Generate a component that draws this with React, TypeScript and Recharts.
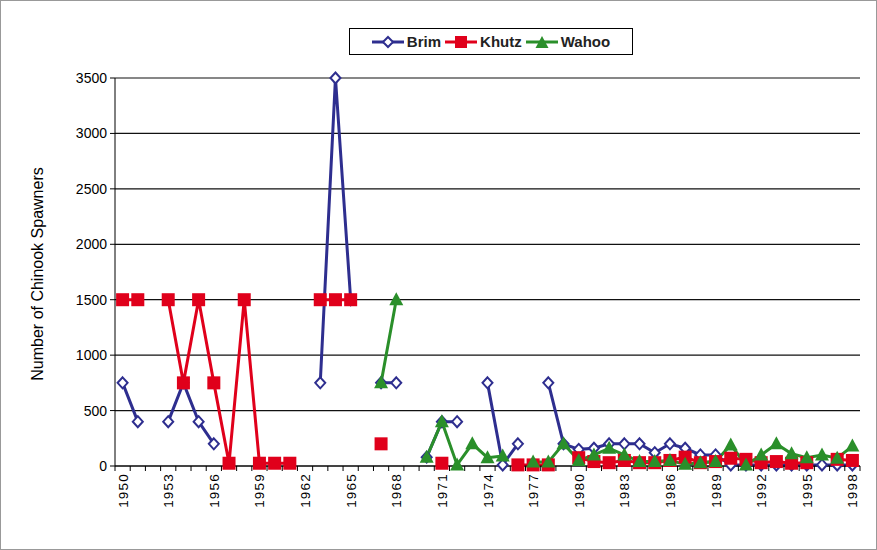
import { CartesianGrid, Label, Line, LineChart, XAxis, YAxis } from 'recharts';

// Chinook spawner counts by stream, 1950–1998 (null = no survey that year)
const years = [
  1950, 1951, 1952, 1953, 1954, 1955, 1956, 1957, 1958, 1959, 1960, 1961, 1962, 1963, 1964, 1965, 1966,
  1967, 1968, 1969, 1970, 1971, 1972, 1973, 1974, 1975, 1976, 1977, 1978, 1979, 1980, 1981, 1982, 1983,
  1984, 1985, 1986, 1987, 1988, 1989, 1990, 1991, 1992, 1993, 1994, 1995, 1996, 1997, 1998,
];

const brim: (number | null)[] = [
  750, 400, null, 400, 750, 400, 200, null, null, null, null, null, null, 750, 3500, 1500, null,
  750, 750, null, 80, 400, 400, null, 750, 10, 200, null, 750, 200, 150, 160, 200, 200,
  200, 120, 200, 160, 100, 100, 10, 10, 10, 10, 10, 10, 10, 10, 10,
];

const khutz: (number | null)[] = [
  1500, 1500, null, 1500, 750, 1500, 750, 25, 1500, 25, 25, 25, null, 1500, 1500, 1500, null,
  200, null, null, null, 25, null, null, null, null, 10, 10, 10, null, 75, 40, 30, 50,
  30, 30, 50, 80, 30, 40, 70, 60, 30, 40, 25, 30, null, 60, 50,
];

const wahoo: (number | null)[] = [
  null, null, null, null, null, null, null, null, null, null, null, null, null, null, null, null, null,
  750, 1500, null, 80, 400, 10, 200, 75, 90, null, 35, 35, 200, 50, 100, 160, 100,
  40, 40, 50, 15, 30, 40, 190, 10, 100, 200, 110, 75, 100, 70, 180,
];

const yTicks = [0, 500, 1000, 1500, 2000, 2500, 3000, 3500];

const BRIM = '#2e2e8f';
const KHUTZ = '#e0001b';
const WAHOO = '#2a8f2a';
const FONT = '"Liberation Sans", Arial, sans-serif';

const W = 877;
const H = 550;
const PLOT_LEFT = 115;
const PLOT_RIGHT = 860;
const PLOT_TOP = 78;
const PLOT_BOTTOM = 466;
const BAND = (PLOT_RIGHT - PLOT_LEFT) / years.length;

const data = years.map((year, i) => ({ year, brim: brim[i], khutz: khutz[i], wahoo: wahoo[i] }));

function Diamond({ cx, cy, value }: any) {
  if (value == null || cy == null) return <g />;
  return (
    <polygon
      points={`${cx},${cy - 5.5} ${cx + 5},${cy} ${cx},${cy + 5.5} ${cx - 5},${cy}`}
      fill="#fff"
      stroke={BRIM}
      strokeWidth={2}
    />
  );
}

function Square({ cx, cy, value }: any) {
  if (value == null || cy == null) return <g />;
  return <rect x={cx - 6.5} y={cy - 6.5} width={13} height={13} fill={KHUTZ} />;
}

function Triangle({ cx, cy, value }: any) {
  if (value == null || cy == null) return <g />;
  return <polygon points={`${cx},${cy - 7.5} ${cx + 7},${cy + 5.5} ${cx - 7},${cy + 5.5}`} fill={WAHOO} />;
}

// tick marks sit between categories, labels every third year
function YearTick({ x, y, payload, index }: any) {
  const half = BAND / 2;
  return (
    <g>
      <line x1={x - half} x2={x - half} y1={y} y2={y + 5} stroke="#000" />
      {index === years.length - 1 && <line x1={x + half} x2={x + half} y1={y} y2={y + 5} stroke="#000" />}
      {index % 3 === 0 && (
        <text
          transform={`translate(${x + 5},${y + 7}) rotate(-90)`}
          textAnchor="end"
          fontSize={13.5}
          letterSpacing={1.2}
          fontFamily={FONT}
          fill="#000"
        >
          {payload.value}
        </text>
      )}
    </g>
  );
}

function LegendIcon({ color, marker }: { color: string; marker: 'diamond' | 'square' | 'triangle' }) {
  return (
    <svg width={32} height={14} aria-hidden="true">
      <line x1={0} y1={7} x2={32} y2={7} stroke={color} strokeWidth={3} />
      {marker === 'diamond' && <polygon points="16,2 21,7 16,12 11,7" fill="#fff" stroke={color} strokeWidth={2} />}
      {marker === 'square' && <rect x={10} y={1} width={12} height={12} fill={color} />}
      {marker === 'triangle' && <polygon points="16,1 22.5,13 9.5,13" fill={color} />}
    </svg>
  );
}

export default function App() {
  const items = [
    { name: 'Brim', color: BRIM, marker: 'diamond' as const },
    { name: 'Khutz', color: KHUTZ, marker: 'square' as const },
    { name: 'Wahoo', color: WAHOO, marker: 'triangle' as const },
  ];
  return (
    <div
      style={{
        position: 'absolute',
        left: 0,
        top: 0,
        width: W,
        height: H,
        boxSizing: 'border-box',
        border: '1px solid #999',
        background: '#fff',
        fontFamily: FONT,
      }}
    >
      <div
        style={{
          position: 'absolute',
          left: 348,
          top: 27,
          width: 284,
          height: 27,
          boxSizing: 'border-box',
          border: '1px solid #000',
          display: 'flex',
          alignItems: 'center',
          justifyContent: 'center',
          gap: 4,
          fontSize: 15,
          fontWeight: 'bold',
          color: '#222',
        }}
      >
        {items.map((it) => (
          <span key={it.name} style={{ display: 'flex', alignItems: 'center', gap: 3 }}>
            <LegendIcon color={it.color} marker={it.marker} />
            {it.name}
          </span>
        ))}
      </div>

      <LineChart
        width={W - 2}
        height={H - 2}
        data={data}
        margin={{ top: PLOT_TOP - 1, right: W - 1 - PLOT_RIGHT, bottom: H - 1 - PLOT_BOTTOM - 60, left: 0 }}
      >
        <CartesianGrid vertical={false} stroke="#111" strokeWidth={1.2} />
        <XAxis
          dataKey="year"
          scale="band"
          interval={0}
          height={60}
          tickSize={0}
          tickMargin={0}
          tick={<YearTick />}
          axisLine={{ stroke: '#000' }}
          tickLine={false}
        />
        <YAxis
          width={PLOT_LEFT - 1}
          domain={[0, 3500]}
          ticks={yTicks}
          interval={0}
          tickSize={5}
          tickMargin={3}
          axisLine={{ stroke: '#000' }}
          tickLine={{ stroke: '#000' }}
          tick={{ fontSize: 14, fill: '#000', fontFamily: FONT }}
        >
          <Label
            content={({ viewBox }: any) => {
              const cx = 42;
              const cy = viewBox.y + viewBox.height / 2 + 2;
              return (
                <text
                  transform={`translate(${cx},${cy}) rotate(-90)`}
                  textAnchor="middle"
                  fontSize={16}
                  fontFamily={FONT}
                  fill="#000"
                >
                  Number of Chinook Spawners
                </text>
              );
            }}
          />
        </YAxis>
        <YAxis yAxisId="edge" orientation="right" width={0} tick={false} tickLine={false} axisLine={{ stroke: '#888' }} />
        <Line dataKey="brim" stroke={BRIM} strokeWidth={3} dot={<Diamond />} activeDot={false} isAnimationActive={false} />
        <Line dataKey="khutz" stroke={KHUTZ} strokeWidth={3} dot={<Square />} activeDot={false} isAnimationActive={false} />
        <Line dataKey="wahoo" stroke={WAHOO} strokeWidth={3} dot={<Triangle />} activeDot={false} isAnimationActive={false} />
      </LineChart>
    </div>
  );
}
